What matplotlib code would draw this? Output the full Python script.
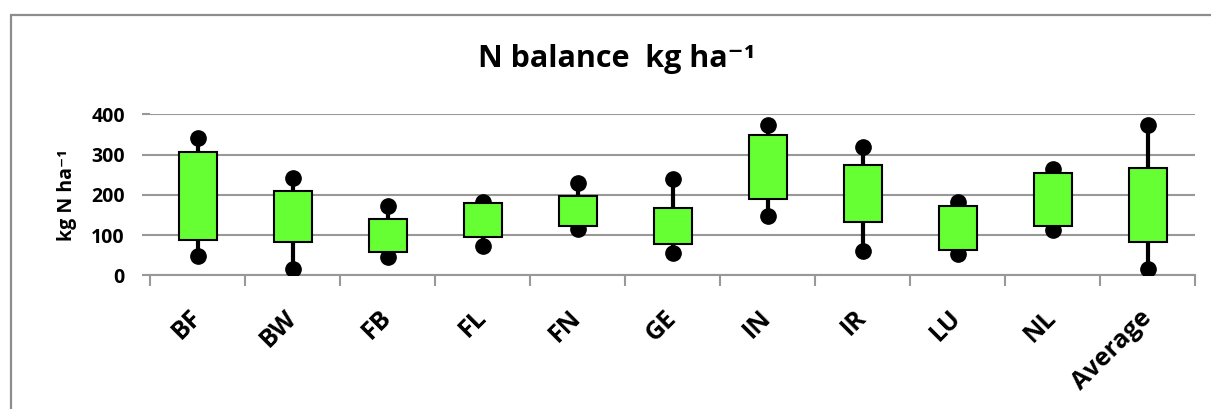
import matplotlib
matplotlib.use("Agg")
import matplotlib.pyplot as plt
from matplotlib.patches import Rectangle
import numpy as np

categories = ["BF", "BW", "FB", "FL", "FN", "GE", "IN", "IR", "LU", "NL", "Average"]
box_top = [306, 209, 139, 179, 196, 166, 348, 275, 173, 255, 267]
box_bottom = [88, 83, 57, 96, 122, 79, 189, 133, 63, 123, 82]
max_vals = [340, 241, 173, 181, 229, 239, 373, 320, 181, 265, 373]
min_vals = [49, 16, 46, 74, 116, 55, 148, 61, 54, 112, 16]
yticks = [0, 100, 200, 300, 400]

plt.rcParams['font.family'] = ['Open Sans', 'DejaVu Sans']
plt.rcParams['font.weight'] = 'bold'

W, H = 1211, 409
fig = plt.figure(figsize=(W / 100, H / 100), dpi=100)
ax = fig.add_axes([150 / W, (H - 275.3) / H, (1195 - 150) / W, (275.3 - 114.3) / H])

# outer chart border
fig.patches.append(Rectangle((11 / W, -0.1), 1.2, (H - 15.5) / H + 0.1, transform=fig.transFigure,
                             fill=False, edgecolor='#8c8c8c', linewidth=1.6, clip_on=False))

x = np.arange(len(categories))
bw = 0.4
grey = '#989898'

# whiskers
ax.vlines(x, box_top, max_vals, color='black', linewidth=3, zorder=3)
ax.vlines(x, min_vals, box_bottom, color='black', linewidth=3, zorder=3)
# dots
ax.plot(x, max_vals, 'o', color='black', markersize=11, zorder=3)
ax.plot(x, min_vals, 'o', color='black', markersize=11, zorder=3)
# boxes
ax.bar(x, np.array(box_top) - np.array(box_bottom), bottom=box_bottom, width=bw,
       color='#66ff33', edgecolor='black', linewidth=1.5, zorder=4)

ax.set_xlim(-0.5, len(categories) - 0.5)
ax.set_ylim(0, 400)
ax.set_yticks(yticks)
ax.set_yticklabels([str(v) for v in yticks], fontsize=14, fontweight='bold')
ax.grid(axis='y', color=grey, linewidth=1.5, zorder=0)
ax.set_axisbelow(True)
ax.tick_params(axis='y', length=6, color=grey, width=1.5, pad=12)

ax.set_xticks(x)
ax.set_xticklabels(categories, rotation=45, ha='right', va='center', rotation_mode='anchor',
                   fontsize=18, fontweight='bold')
ax.tick_params(axis='x', which='major', length=0, pad=28)
ax.set_xticks(np.arange(len(categories) + 1) - 0.5, minor=True)
ax.tick_params(axis='x', which='minor', length=8, color=grey, width=1.5)

for s in ['top', 'right', 'left']:
    ax.spines[s].set_visible(False)
ax.spines['bottom'].set_color(grey)
ax.spines['bottom'].set_linewidth(1.5)

ax.set_ylabel('kg N ha\u207b\u00b9', fontsize=14, fontweight='bold', labelpad=10)

fig.text(617 / W, (H - 59) / H, 'N balance  kg ha\u207b\u00b9', ha='center', va='center',
         fontsize=22, fontweight='bold')

fig.savefig('out.png', dpi=100)
